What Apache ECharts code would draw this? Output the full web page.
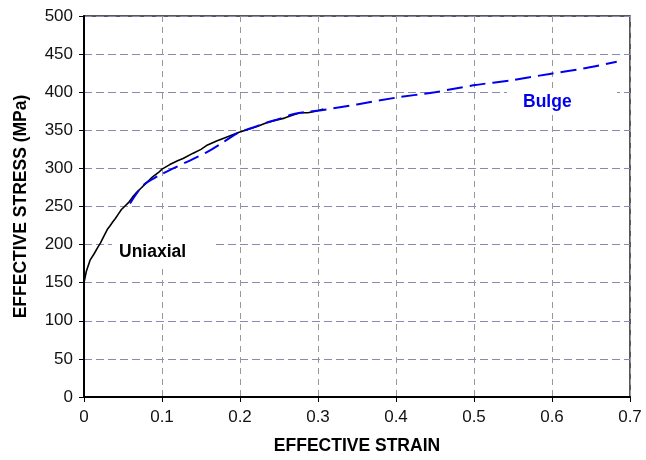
<!DOCTYPE html>
<html><head><meta charset="utf-8">
<script src="https://cdn.jsdelivr.net/npm/echarts@6/dist/echarts.min.js"></script>
<style>html,body{margin:0;padding:0;background:#fff}#c{width:646px;height:460px}</style>
</head><body><div id="c"></div>
<script>
// Uniaxial test (strain, stress MPa)
const uniStrain = [0, 0.003, 0.008, 0.013, 0.018, 0.021, 0.026, 0.030, 0.033, 0.037, 0.040, 0.044, 0.048, 0.052, 0.057, 0.062, 0.067, 0.072, 0.080, 0.088, 0.096, 0.100, 0.110, 0.120, 0.127, 0.140, 0.150, 0.157, 0.170, 0.185, 0.198, 0.210, 0.222, 0.234, 0.245, 0.257, 0.268, 0.277, 0.287, 0.297, 0.307];
const uniStress = [150, 165, 180, 188, 197, 202, 212, 220, 224, 230, 234, 240, 246, 250, 255, 262, 268, 273, 281, 289, 295, 299, 305, 310, 313, 320, 325, 330, 336, 342, 347, 351, 355, 360, 363, 366, 370, 373, 373, 375, 378];
// Bulge test (strain, stress MPa)
const bulgeStrain = [0.059, 0.076, 0.095, 0.1145, 0.135, 0.157, 0.178, 0.198, 0.215, 0.234, 0.250, 0.268, 0.285, 0.302, 0.35, 0.401, 0.45, 0.499, 0.55, 0.597, 0.64, 0.683];
const bulgeStress = [254, 278, 290, 300, 310, 321, 334, 347, 353, 360, 365, 371, 374, 376, 384, 393, 400, 409, 416, 424, 431, 440];
const xTicks = [0, 0.1, 0.2, 0.3, 0.4, 0.5, 0.6, 0.7];
const yTicks = [0, 50, 100, 150, 200, 250, 300, 350, 400, 450, 500];

const uni = uniStrain.map((x, i) => [x, uniStress[i]]);
const bulge = bulgeStrain.map((x, i) => [x, bulgeStress[i]]);
const font = 'Liberation Sans, Arial, sans-serif';

const chart = echarts.init(document.getElementById('c'), null, {renderer: 'canvas'});
chart.setOption({
  animation: false,
  backgroundColor: '#fff',
  grid: {left: 84, right: 16, top: 16, bottom: 60, show: true, borderColor: '#222', borderWidth: 1.5, backgroundColor: 'transparent'},
  xAxis: {
    type: 'value', min: xTicks[0], max: xTicks[xTicks.length - 1], interval: 0.1,
    name: 'EFFECTIVE STRAIN', nameLocation: 'middle', nameGap: 40,
    nameTextStyle: {fontFamily: font, fontWeight: 'bold', fontSize: 17.5, color: '#000'},
    axisLine: {show: true, onZero: false, lineStyle: {color: '#000', width: 2}},
    axisTick: {show: true, length: 5, lineStyle: {color: '#000', width: 1}},
    axisLabel: {fontFamily: font, fontSize: 17, color: '#111', margin: 12,
      formatter: v => String(Math.round(v * 10) / 10)},
    splitLine: {show: true, lineStyle: {color: '#999', type: [6, 5], width: 1}}
  },
  yAxis: {
    type: 'value', min: yTicks[0], max: yTicks[yTicks.length - 1], interval: 50,
    name: 'EFFECTIVE STRESS (MPa)', nameLocation: 'middle', nameGap: 54, nameRotate: 90,
    nameTextStyle: {fontFamily: font, fontWeight: 'bold', fontSize: 17.5, color: '#000'},
    axisLine: {show: true, onZero: false, lineStyle: {color: '#000', width: 2}},
    axisTick: {show: true, length: 5, lineStyle: {color: '#000', width: 1}},
    axisLabel: {fontFamily: font, fontSize: 17, color: '#111', margin: 11},
    splitLine: {show: true, lineStyle: {color: '#8a8ab0', type: [8, 4], width: 1}}
  },
  series: [
    {type: 'line', name: 'Uniaxial', data: uni, showSymbol: false, smooth: false, z: 3,
      lineStyle: {color: '#000', width: 1.6}},
    {type: 'line', name: 'Bulge', data: bulge, showSymbol: false, smooth: 0.3, z: 4,
      lineStyle: {color: '#0000ee', width: 2, type: [16, 7]}}
  ],
  graphic: [
    {type: 'rect', shape: {x: 112, y: 239, width: 102, height: 26}, style: {fill: '#fff'}, z: 1},
    {type: 'text', left: 119, top: 243, style: {text: 'Uniaxial', fill: '#000', font: 'bold 17.5px ' + font}, z: 5},
    {type: 'rect', shape: {x: 507, y: 89, width: 110, height: 26}, style: {fill: '#fff'}, z: 1},
    {type: 'text', left: 523, top: 93, style: {text: 'Bulge', fill: '#0000ee', font: 'bold 17.5px ' + font}, z: 5}
  ]
});
</script></body></html>
